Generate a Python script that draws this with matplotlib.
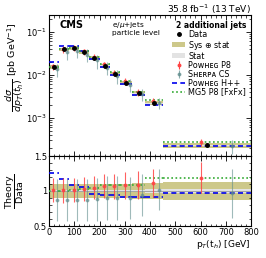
import numpy as np
import matplotlib
matplotlib.use("Agg")
import matplotlib.pyplot as plt
from matplotlib.patches import Patch
from matplotlib.lines import Line2D

bins = [0, 40, 80, 120, 160, 200, 240, 280, 330, 380, 450, 800]
data = [0.0155, 0.039, 0.042, 0.034, 0.0245, 0.0164, 0.0105, 0.0065, 0.0037, 0.0022, 0.00023]
sys_rel = [0.10, 0.10, 0.10, 0.10, 0.10, 0.10, 0.10, 0.10, 0.11, 0.11, 0.13]
stat_rel = [0.015, 0.012, 0.012, 0.012, 0.013, 0.015, 0.015, 0.018, 0.02, 0.022, 0.03]
r_powp8 = [1.01, 1.01, 1.01, 1.03, 1.05, 1.07, 1.07, 1.08, 1.09, 1.12, 1.19]
e_powp8 = [0.17, 0.18, 0.17, 0.17, 0.17, 0.17, 0.18, 0.19, 0.2, 0.2, 0.22]
r_sherpa = [0.87, 0.87, 0.87, 0.87, 0.88, 0.90, 0.90, 0.90, 0.95, 1.02, 0.97]
e_sherpa = [0.30, 0.30, 0.30, 0.30, 0.31, 0.31, 0.31, 0.30, 0.30, 0.29, 0.35]
r_powhpp = [1.26, 1.17, 1.09, 1.06, 0.96, 0.95, 0.94, 0.92, 0.91, 0.92, 0.97]
r_mg5 = [1.00, 1.00, 1.01, 1.03, 1.05, 1.08, 1.08, 1.09, 1.09, 1.18, 1.19]

C_SYS = "#cdc88a"
C_STAT = "#e3e3e3"
C_RED = "#ff4444"
C_TEAL = "#5f8c8c"
C_BLUE = "#0000ee"
C_GREEN = "#33aa33"

plt.rcParams['font.family'] = ['DejaVu Sans']
fig = plt.figure(figsize=(2.66, 2.58), dpi=100)
L, R = 49/266, 251/266
ax1 = fig.add_axes([L, 1-156/258, R-L, (156-15)/258])
ax2 = fig.add_axes([L, 1-226/258, R-L, (226-156)/258], sharex=ax1)

edges = np.array(bins, float)
lo, hi = edges[:-1], edges[1:]
w = hi - lo
cen = 0.5*(lo+hi)
d = np.array(data)
srel = np.array(sys_rel); strel = np.array(stat_rel)

def draw(ax, scale):
    s = np.ones_like(d) if scale is None else d
    for i in range(len(d)):
        ax.fill_between([lo[i], hi[i]], s[i]*(1-srel[i]), s[i]*(1+srel[i]), color=C_SYS, lw=0, zorder=1)
        ax.fill_between([lo[i], hi[i]], s[i]*(1-strel[i]), s[i]*(1+strel[i]), color=C_STAT, lw=0, zorder=2)
    for vals, col, ls in [(r_powhpp, C_BLUE, (0, (3, 2))), (r_mg5, C_GREEN, (0, (1, 1.5)))]:
        v = np.array(vals)*s
        for i in range(len(d)):
            ax.plot([lo[i], hi[i]], [v[i], v[i]], color=col, ls=ls, lw=1.2, zorder=4)
    v = np.array(r_powp8)*s; e = np.array(e_powp8)*s
    ax.errorbar(cen - 0.07*w, v, yerr=e, fmt='o', ms=1.8, color=C_RED, ecolor=C_RED, elinewidth=0.8, alpha=0.85, zorder=5)
    v = np.array(r_sherpa)*s; e = np.array(e_sherpa)*s
    ax.errorbar(cen + 0.28*w, v, yerr=e, fmt='o', ms=1.8, color=C_TEAL, ecolor=C_TEAL, elinewidth=0.8, alpha=0.6, zorder=5)

draw(ax1, d)
ax1.errorbar(cen, d, yerr=d*0.015, fmt='o', ms=2.5, color='black', elinewidth=0.8, zorder=6)
draw(ax2, None)
ax2.axhline(1.0, color='#999999', lw=0.6, zorder=3)

ax1.set_yscale('log')
ax1.set_ylim(1.3e-4, 0.245)
ax1.set_xlim(0, 800)
ax2.set_ylim(0.5, 1.5)
ax2.set_yticks([0.5, 1, 1.5])
ax2.set_yticklabels(['0.5', '1', '1.5'])
ax2.set_xticks(range(0, 801, 100))
ax2.xaxis.set_minor_locator(matplotlib.ticker.MultipleLocator(20))
ax2.yaxis.set_minor_locator(matplotlib.ticker.MultipleLocator(0.1))
plt.setp(ax1.get_xticklabels(), visible=False)

for ax in (ax1, ax2):
    ax.tick_params(which='both', direction='in', top=True, right=True, labelsize=6, pad=1.5)
    ax.tick_params(which='major', length=3.5, width=0.6)
    ax.tick_params(which='minor', length=1.8, width=0.5)
    for sp in ax.spines.values():
        sp.set_linewidth(0.8)

ax1.set_ylabel(r'$\dfrac{d\sigma}{dp_{T}(t_{h})}$ [pb GeV$^{-1}$]', fontsize=6.8, labelpad=1)
ax2.set_ylabel(r'$\dfrac{\mathrm{Theory}}{\mathrm{Data}}$', fontsize=6.8, labelpad=1)
ax2.set_xlabel(r'p$_{T}$(t$_{h}$) [GeV]', fontsize=6.5, loc='right', labelpad=1)
ax1.yaxis.set_label_coords(-0.115, 0.63)
ax2.yaxis.set_label_coords(-0.115, 0.5)

ax1.text(0.05, 0.965, 'CMS', transform=ax1.transAxes, fontsize=7, fontweight='bold', va='top')
ax1.text(0.31, 0.965, r'e/$\mu$+jets', transform=ax1.transAxes, fontsize=5.3, va='top')
ax1.text(0.31, 0.895, 'particle level', transform=ax1.transAxes, fontsize=5.3, va='top')
fig.text(R, 1-9/258, r'35.8 fb$^{-1}$ (13 TeV)', fontsize=6.5, ha='right', va='center')

handles = [
    Line2D([], [], marker='o', ms=2.5, color='black', ls='none'),
    Patch(color=C_SYS, lw=0),
    Patch(color=C_STAT, lw=0),
    ax1.errorbar([], [], yerr=[], fmt='o', ms=1.8, color=C_RED, elinewidth=0.8),
    ax1.errorbar([], [], yerr=[], fmt='o', ms=1.8, color=C_TEAL, elinewidth=0.8, alpha=0.7),
    Line2D([], [], color=C_BLUE, ls=(0, (3, 2)), lw=1.2),
    Line2D([], [], color=C_GREEN, ls=(0, (1, 1.5)), lw=1.2),
]
labels = ['Data', r'Sys $\oplus$ stat', 'Stat', 'P\u1d0f\u1d21\u029c\u1d07\u0262 P8',
          'S\u029c\u1d07\u0280\u1d18\u1d00 CS', 'P\u1d0f\u1d21\u029c\u1d07\u0262 H++', 'MG5 P8 [FxFx]']
leg = ax1.legend(handles, labels, loc='upper right', bbox_to_anchor=(1.0, 0.995), frameon=False,
                 fontsize=5.8, handlelength=1.6, handleheight=0.6, labelspacing=0.0,
                 handletextpad=0.4, borderaxespad=0.2, title='2 additional jets',
                 title_fontproperties={'size': 5.5, 'weight': 'bold'})
leg._legend_box.align = 'right'

fig.savefig('out.png', dpi=100)
